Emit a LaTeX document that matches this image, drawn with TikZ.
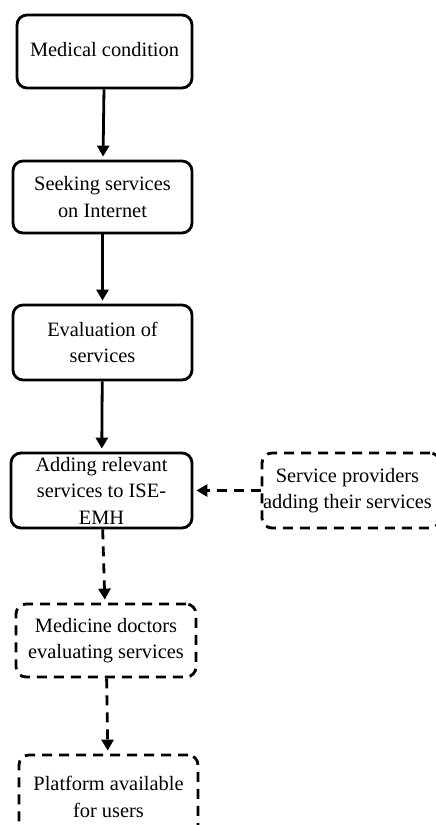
\documentclass[tikz,border=0pt]{standalone}
\usepackage{fontspec}
\setmainfont{Liberation Serif}
\usetikzlibrary{arrows.meta}
\usetikzlibrary{positioning}

\tikzset {
  flow node/.style = {
    draw = black,
    line width = 2.8pt,
    rounded corners = 10pt,
    align = center,
    inner sep = 1pt,
    font = \fontsize{20.4}{26.5}\selectfont
  },
  % step that is already done
  done/.style = {
    flow node
  },
  % step still to come
  todo/.style = {
    flow node,
    dash pattern = on 10pt off 7pt
  },
  flow path/.style = {
    draw = black,
    line width = 2.8pt,
    -{Triangle[width=12pt,length=11pt]},
    shorten > = 3pt
  },
  % solid connector
  arr/.style = {
    flow path
  },
  % dashed connector
  darr/.style = {
    flow path,
    dash pattern = on 10pt off 7pt
  }
}

\begin{document}
\begin{tikzpicture}[x=1pt, y=-1pt]
    \useasboundingbox (0,0) rectangle (436,825);
    \clip (0,0) rectangle (436,825);

    \node[done, minimum width=175pt, minimum height=73pt] (condition) at (104.5,51.5) {\raisebox{4pt}{Medical condition}};
    \node[done, minimum width=179pt, minimum height=72pt] (seeking) at (102.5,197) {Seeking services\\on Internet};
    \node[done, minimum width=179pt, minimum height=75pt] (evaluation) at (102.5,342.5) {Evaluation of\\services};
    \node[done, minimum width=181pt, minimum height=75pt] (adding) at (101.5,490.5) {Adding relevant\\services to ISE-\\EMH};
    \node[todo, minimum width=178pt, minimum height=75pt] (providers) at (351,490.5) {\hspace*{-7pt}Service providers\\\hspace*{-7pt}adding their services};
    \node[todo, minimum width=180pt, minimum height=73pt] (doctors) at (106,640.5) {Medicine doctors\\evaluating services};
    \node[todo, minimum width=179pt, minimum height=84pt] (platform) at (108.5,797) {Platform available\\for users};

    \draw[arr] (condition) -- (seeking);
    \draw[arr] (seeking) -- (evaluation);
    \draw[arr] (evaluation) -- (adding);
    \draw[darr] (providers) -- (adding);
    \draw[darr] (adding) -- (doctors);
    \draw[darr] (doctors) -- (platform);
\end{tikzpicture}
\end{document}
